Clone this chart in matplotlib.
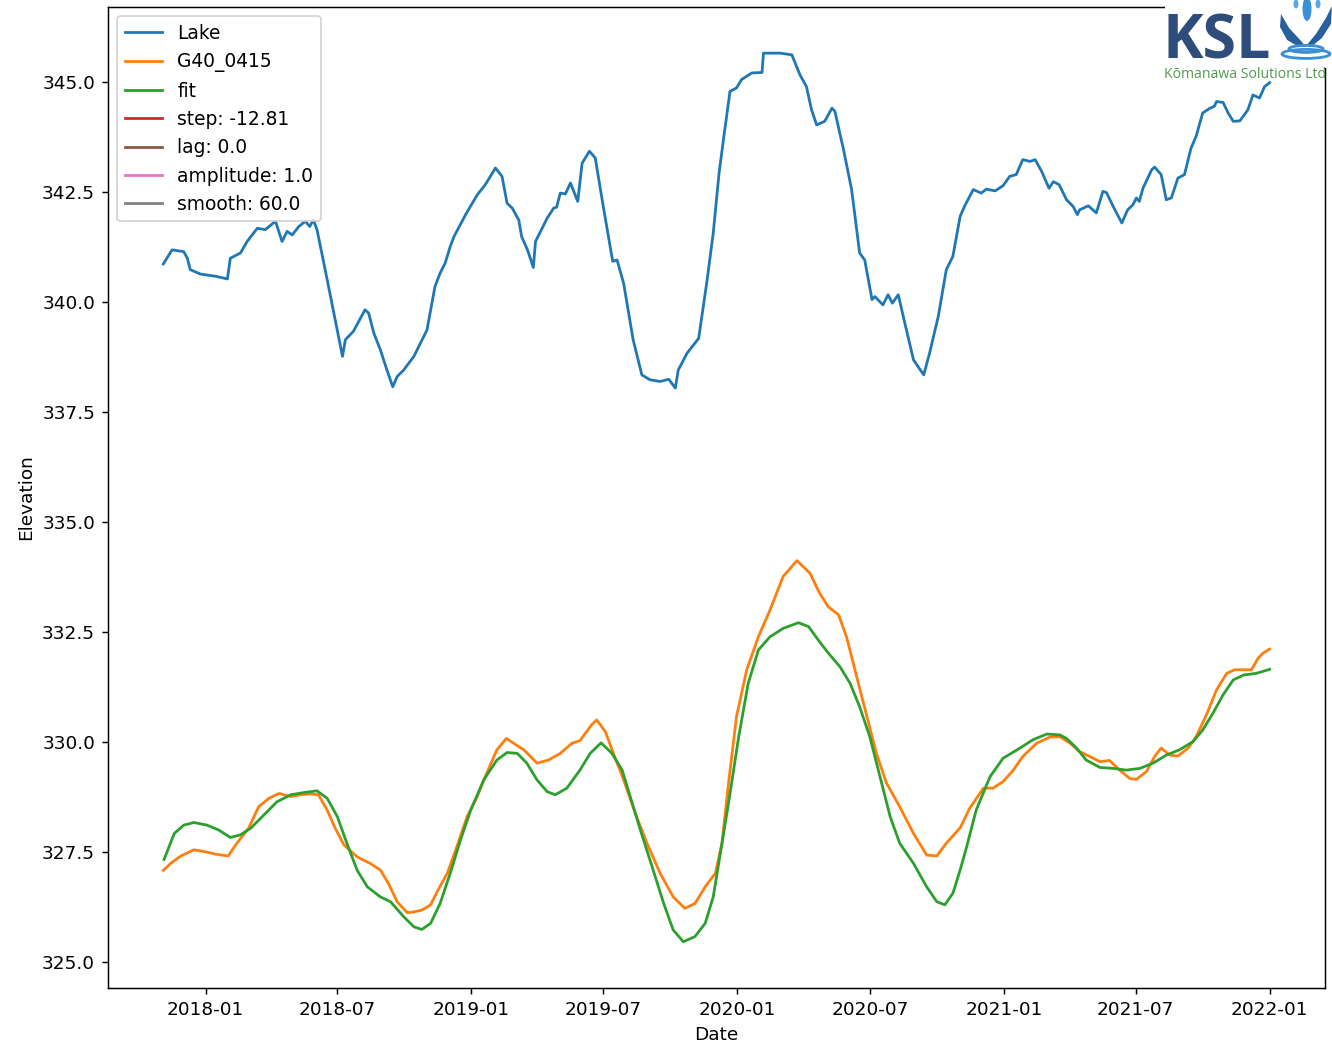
import matplotlib.pyplot as plt
import matplotlib.patches as mpatches
import pandas as pd

start = pd.Timestamp('2018-01-01')

# lake level, days since 2018-01-01 and elevation
lake_day = [-58, -46, -30, -25, -21, -7, 14, 30, 34, 48, 57, 71, 82, 96, 105, 112, 119,
            128, 137, 143, 148, 153, 167, 178, 188, 192, 203, 219, 224, 231, 240, 249,
            257, 263, 272, 286, 304, 315, 322, 329, 336, 341, 357, 373, 384, 398, 407,
            414, 421, 430, 434, 442, 450, 453, 462, 469, 478, 482, 487, 494, 501, 511,
            517, 527, 535, 546, 559, 565, 574, 587, 599, 610, 624, 636, 645, 649, 661,
            677, 688, 697, 705, 711, 720, 729, 736, 750, 764, 766, 789, 805, 816, 825,
            832, 839, 850, 860, 864, 876, 887, 898, 905, 915, 919, 930, 937, 943, 951,
            960, 972, 986, 994, 1006, 1017, 1026, 1036, 1042, 1054, 1065, 1072, 1084,
            1095, 1104, 1113, 1122, 1132, 1139, 1148, 1158, 1164, 1172, 1182, 1191,
            1197, 1200, 1212, 1223, 1232, 1237, 1246, 1258, 1266, 1273, 1278, 1282,
            1287, 1299, 1303, 1312, 1319, 1326, 1335, 1344, 1353, 1360, 1369, 1379,
            1385, 1388, 1397, 1404, 1411, 1420, 1431, 1438, 1447, 1454, 1461]
lake = [340.86, 341.18, 341.14, 340.99, 340.73, 340.63, 340.58, 340.52, 340.99, 341.11,
        341.37, 341.67, 341.64, 341.83, 341.37, 341.60, 341.52, 341.71, 341.83, 341.71,
        341.86, 341.64, 340.50, 339.59, 338.76, 339.14, 339.33, 339.82, 339.74, 339.29,
        338.91, 338.45, 338.07, 338.30, 338.45, 338.76, 339.36, 340.35, 340.65, 340.88,
        341.26, 341.48, 341.98, 342.43, 342.66, 343.04, 342.85, 342.24, 342.13, 341.86,
        341.48, 341.18, 340.78, 341.37, 341.67, 341.90, 342.13, 342.15, 342.47, 342.45,
        342.70, 342.28, 343.15, 343.42, 343.27, 342.17, 340.92, 340.95, 340.42, 339.14,
        338.34, 338.23, 338.19, 338.24, 338.04, 338.45, 338.83, 339.17, 340.42, 341.56,
        342.92, 343.68, 344.78, 344.86, 345.05, 345.20, 345.21, 345.65, 345.65, 345.61,
        345.16, 344.89, 344.36, 344.02, 344.10, 344.40, 344.33, 343.45, 342.55, 341.11,
        340.95, 340.05, 340.12, 339.93, 340.16, 339.97, 340.16, 339.52, 338.68, 338.34,
        338.83, 339.67, 340.73, 341.03, 341.94, 342.17, 342.55, 342.47, 342.56, 342.52,
        342.64, 342.85, 342.89, 343.23, 343.19, 343.23, 342.96, 342.58, 342.73, 342.66,
        342.32, 342.17, 341.98, 342.09, 342.18, 342.02, 342.51, 342.48, 342.17, 341.79,
        342.09, 342.20, 342.36, 342.28, 342.58, 343.00, 343.06, 342.89, 342.32, 342.36,
        342.81, 342.89, 343.49, 343.76, 344.29, 344.40, 344.44, 344.55, 344.53, 344.29,
        344.10, 344.11, 344.36, 344.70, 344.63, 344.89, 344.98]

# observed well G40_0415
well_day = [-58, -48, -34, -16, -2, 14, 31, 43, 59, 73, 87, 101, 117, 130, 144, 155, 167,
            178, 190, 208, 226, 240, 251, 263, 277, 286, 297, 309, 318, 332, 345, 359,
            373, 386, 400, 413, 423, 437, 455, 471, 487, 503, 514, 530, 537, 549, 560,
            574, 590, 606, 624, 642, 658, 672, 686, 700, 709, 718, 729, 743, 759, 775,
            793, 812, 830, 843, 855, 869, 880, 894, 908, 921, 935, 953, 972, 990, 1004,
            1017, 1036, 1049, 1068, 1081, 1095, 1109, 1122, 1141, 1159, 1173, 1187, 1200,
            1214, 1228, 1241, 1255, 1269, 1278, 1292, 1303, 1312, 1324, 1335, 1349, 1360,
            1374, 1388, 1402, 1413, 1436, 1445, 1452, 1461]
well = [327.08, 327.24, 327.41, 327.55, 327.51, 327.45, 327.41, 327.70, 328.04, 328.53,
        328.72, 328.83, 328.76, 328.80, 328.82, 328.80, 328.45, 328.04, 327.66, 327.39,
        327.24, 327.09, 326.79, 326.37, 326.12, 326.14, 326.18, 326.30, 326.60, 327.02,
        327.62, 328.30, 328.76, 329.29, 329.82, 330.08, 329.97, 329.82, 329.52, 329.59,
        329.74, 329.97, 330.03, 330.39, 330.50, 330.23, 329.74, 329.14, 328.38, 327.70,
        327.02, 326.48, 326.22, 326.33, 326.71, 327.02, 327.70, 329.06, 330.58, 331.64,
        332.39, 333.00, 333.76, 334.12, 333.83, 333.38, 333.07, 332.89, 332.39, 331.48,
        330.58, 329.74, 329.06, 328.53, 327.92, 327.43, 327.41, 327.70, 328.05, 328.49,
        328.95, 328.95, 329.10, 329.36, 329.67, 329.97, 330.11, 330.12, 329.97, 329.78,
        329.67, 329.55, 329.58, 329.36, 329.17, 329.15, 329.33, 329.67, 329.86, 329.70,
        329.68, 329.86, 330.12, 330.61, 331.18, 331.56, 331.64, 331.64, 331.90, 332.02,
        332.11]

# fitted response
fit_day = [-57, -43, -30, -16, 2, 18, 34, 48, 62, 80, 98, 117, 135, 153, 167, 181, 194,
           208, 222, 240, 254, 272, 286, 297, 309, 322, 336, 350, 364, 382, 400, 414, 428,
           441, 455, 469, 480, 496, 514, 528, 543, 558, 572, 583, 597, 613, 629, 642, 656,
           672, 686, 697, 706, 718, 732, 745, 759, 775, 793, 814, 828, 841, 855, 871, 885,
           898, 912, 926, 940, 953, 972, 990, 1004, 1015, 1026, 1036, 1045, 1058, 1077,
           1095, 1118, 1136, 1155, 1173, 1182, 1196, 1209, 1228, 1246, 1264, 1283, 1301,
           1319, 1337, 1356, 1369, 1383, 1397, 1411, 1425, 1443, 1461]
fit = [327.33, 327.92, 328.11, 328.17, 328.11, 328.00, 327.83, 327.89, 328.04, 328.34,
       328.64, 328.80, 328.85, 328.89, 328.72, 328.30, 327.70, 327.09, 326.71, 326.48,
       326.37, 326.03, 325.80, 325.74, 325.88, 326.33, 327.02, 327.77, 328.45, 329.14,
       329.59, 329.76, 329.74, 329.52, 329.14, 328.87, 328.80, 328.95, 329.36, 329.74,
       329.98, 329.74, 329.36, 328.76, 328.00, 327.17, 326.33, 325.73, 325.46, 325.58,
       325.88, 326.48, 327.39, 328.61, 330.12, 331.33, 332.09, 332.39, 332.58, 332.71,
       332.62, 332.32, 332.02, 331.71, 331.33, 330.80, 330.12, 329.21, 328.30, 327.70,
       327.24, 326.71, 326.37, 326.30, 326.56, 327.09, 327.62, 328.45, 329.21, 329.63,
       329.86, 330.05, 330.18, 330.16, 330.08, 329.86, 329.59, 329.42, 329.40, 329.36,
       329.40, 329.52, 329.70, 329.82, 330.01, 330.27, 330.65, 331.07, 331.41, 331.52,
       331.56, 331.65]

params = ['step: -12.81', 'lag: 0.0', 'amplitude: 1.0', 'smooth: 60.0']
param_colors = ['tab:red', 'tab:brown', 'tab:pink', 'tab:gray']


def to_dates(days):
    return start + pd.to_timedelta(days, unit='D')


W, H = 1332, 1045
fig = plt.figure(figsize=(10, 7.846))
ax = fig.add_axes([108 / W, 57 / H, 1217 / W, 981 / H])

ax.plot(to_dates(lake_day), lake, color='tab:blue', label='Lake')
ax.plot(to_dates(well_day), well, color='tab:orange', label='G40_0415')
ax.plot(to_dates(fit_day), fit, color='tab:green', label='fit')
for p, c in zip(params, param_colors):
    ax.plot([], [], color=c, label=p)

ax.set_ylim(324.41, 346.70)
ax.set_xlabel('Date')
ax.set_ylabel('Elevation')
ax.legend(loc='upper left', fontsize=10.1)


def px(x, y):
    # pixel position from the top-left corner -> figure fraction
    return (x / W, 1 - y / H)


# company logo in the top right corner
fig.patches.append(mpatches.Rectangle(px(1165, 68), 167 / W, 68 / H,
                                      transform=fig.transFigure, facecolor='white',
                                      edgecolor='none', zorder=10))
fig.text(*px(1163, 58), 'KSL', color='#2e4d7b', fontsize=33,
         fontweight='bold', family='Open Sans', zorder=11)
fig.text(*px(1164, 78), 'Kōmanawa Solutions Ltd', color='#4f9a4f',
         fontsize=7.6, family='Open Sans', zorder=11)

# splash icon: two petals, a centre drop and ripples
petals = [
    [(1281, 14), (1289, 28), (1301, 41), (1306, 47), (1299, 47), (1287, 40), (1280, 27)],
    [(1332, 6), (1331, 24), (1322, 38), (1311, 47), (1306, 46), (1316, 34), (1326, 18)],
]
for pts in petals:
    fig.patches.append(mpatches.Polygon([px(x, y) for x, y in pts], closed=True,
                                        transform=fig.transFigure, facecolor='#2a5f9e',
                                        edgecolor='none', zorder=11))
for (cx, cy, w, h, c) in [(1307, 9, 9, 24, '#3a8fd8'), (1296, 4, 5, 9, '#5aa8e6'),
                          (1318, 4, 5, 9, '#5aa8e6')]:
    fig.patches.append(mpatches.Ellipse(px(cx, cy), w / W, h / H,
                                        transform=fig.transFigure, facecolor=c,
                                        edgecolor='none', zorder=11))
for (cy, w, h) in [(49, 34, 7), (54, 48, 9)]:
    fig.patches.append(mpatches.Ellipse(px(1306, cy), w / W, h / H,
                                        transform=fig.transFigure, facecolor='none',
                                        edgecolor='#3b8fd6', lw=1.5, zorder=11))

fig.savefig('out.png', dpi=133.2)
